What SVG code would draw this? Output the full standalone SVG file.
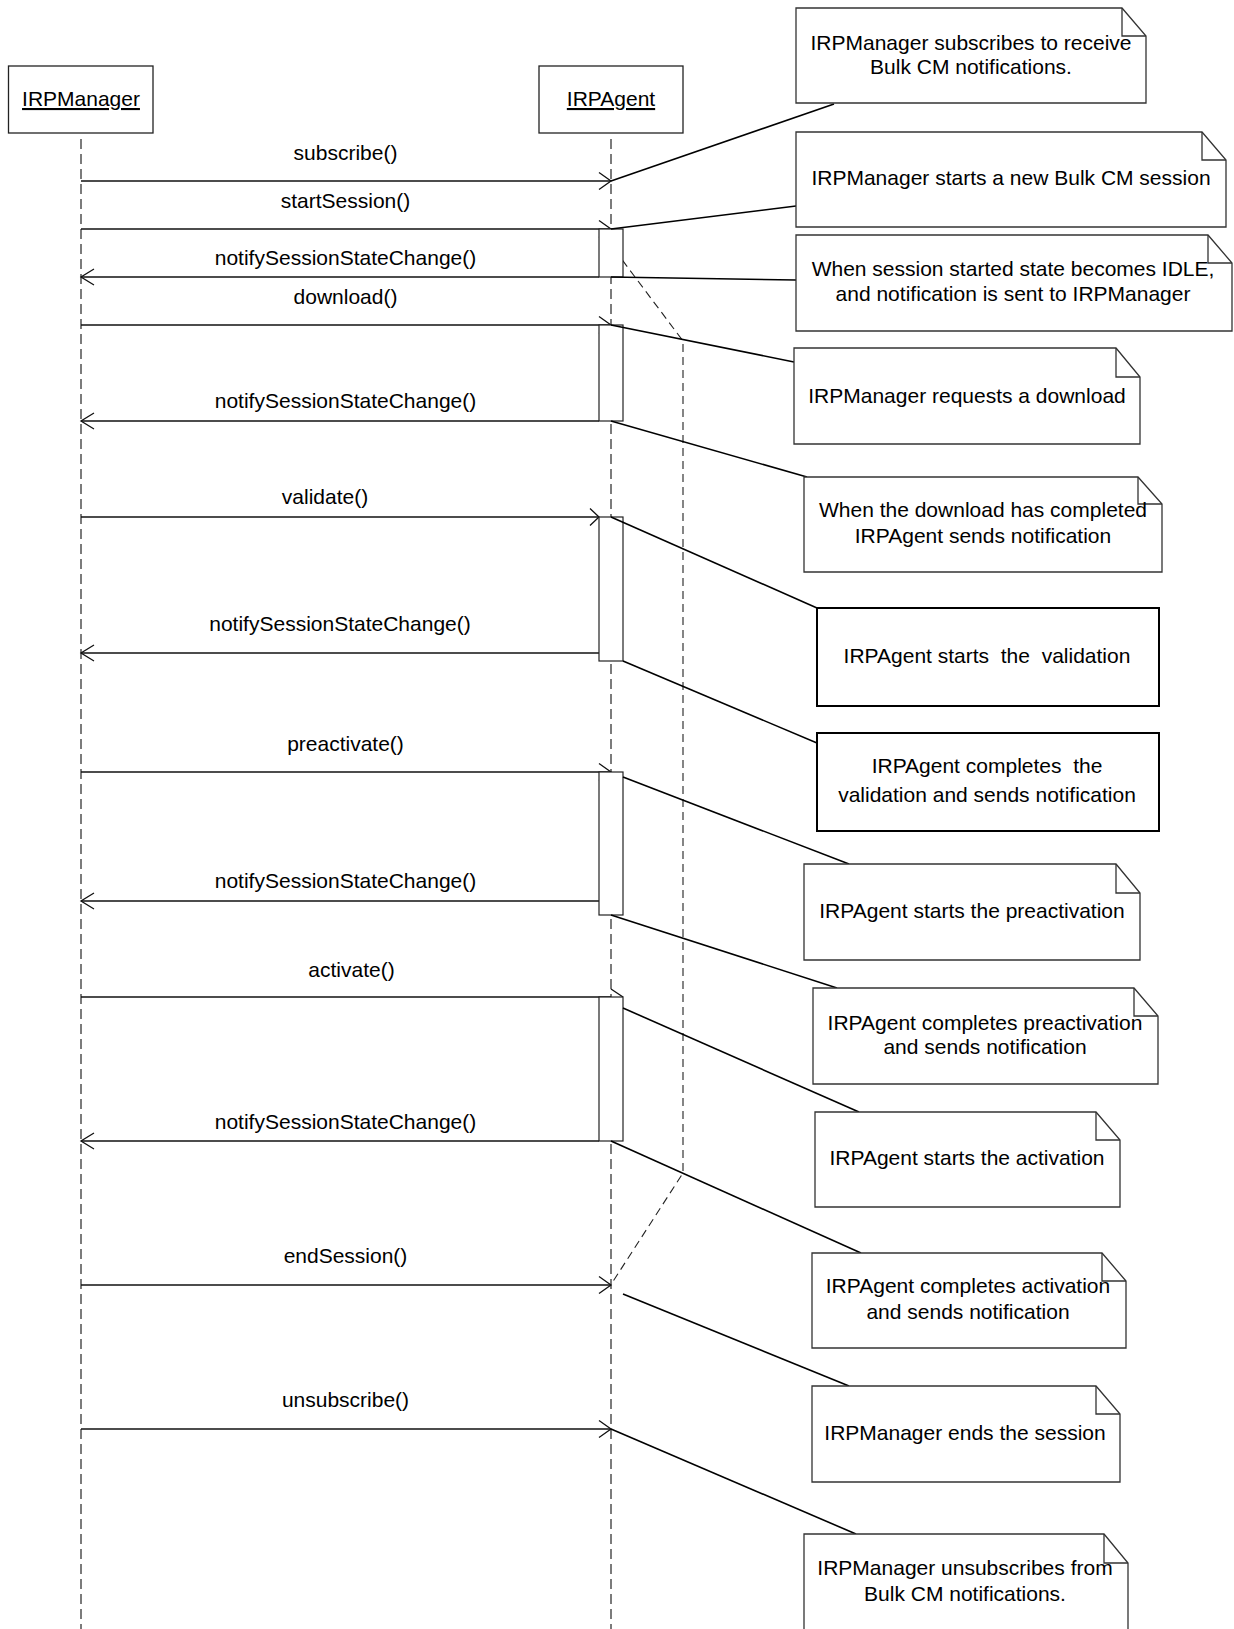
<svg xmlns="http://www.w3.org/2000/svg" width="1234" height="1629" viewBox="0 0 1234 1629">
<style>
text{font-family:"Liberation Sans",Arial,sans-serif;font-size:21px;fill:#000}
.c{text-anchor:middle}
.u{text-decoration:underline}
.obj{fill:#fff;stroke:#222;stroke-width:1.3}
.life{stroke:#444;stroke-width:1.4;stroke-dasharray:10 5;fill:none}
.sess{stroke:#222;stroke-width:1.1;stroke-dasharray:8 5;fill:none}
.msg{stroke:#111;stroke-width:1.3;fill:none}
.act{fill:#fff;stroke:#222;stroke-width:1.2}
.link{stroke:#000;stroke-width:1.6;fill:none}
.note{fill:#fff;stroke:#333;stroke-width:1.3}
.fold{fill:none;stroke:#333;stroke-width:1.3}
.box{fill:#fff;stroke:#000;stroke-width:2}
</style>
<rect width="1234" height="1629" fill="#fff"/>

<g id="lifelines">
<line class="life" x1="81" y1="139" x2="81" y2="1629"/>
<line class="life" x1="611" y1="139" x2="611" y2="1629"/>
<polyline class="sess" points="599,229 683,341 683,1173 612,1283"/>
</g>

<g id="IRPManager">
<rect class="obj" x="8.5" y="66" width="144.5" height="67"/>
<text class="c u" x="81" y="106">IRPManager</text>
</g>
<g id="IRPAgent">
<rect class="obj" x="539" y="66" width="144" height="67"/>
<text class="c u" x="611" y="106">IRPAgent</text>
</g>

<g id="connectors">
<!-- messages -->
<line class="msg" x1="81" y1="181" x2="611" y2="181"/><polyline class="msg" points="599,172.5 611,181 599,189.5"/>
<line class="msg" x1="81" y1="229" x2="611" y2="229"/><polyline class="msg" points="599,220.5 611,229 599,237.5"/>
<line class="msg" x1="81" y1="277" x2="599" y2="277"/><polyline class="msg" points="94,269 81,277 94,285"/>
<line class="msg" x1="81" y1="325" x2="611" y2="325"/><polyline class="msg" points="599,316.5 611,325 599,333.5"/>
<line class="msg" x1="81" y1="421" x2="599" y2="421"/><polyline class="msg" points="94,413 81,421 94,429"/>
<line class="msg" x1="81" y1="517" x2="599" y2="517"/><polyline class="msg" points="590,508.5 599,517 590,525.5"/>
<line class="msg" x1="81" y1="653" x2="599" y2="653"/><polyline class="msg" points="94,645 81,653 94,661"/>
<line class="msg" x1="81" y1="772" x2="611" y2="772"/><polyline class="msg" points="599,763.5 611,772 599,780.5"/>
<line class="msg" x1="81" y1="901" x2="599" y2="901"/><polyline class="msg" points="94,893 81,901 94,909"/>
<line class="msg" x1="81" y1="997" x2="611" y2="997"/><polyline class="msg" points="611,989 623,997"/>
<line class="msg" x1="81" y1="1141" x2="599" y2="1141"/><polyline class="msg" points="94,1133 81,1141 94,1149"/>
<line class="msg" x1="81" y1="1285" x2="611" y2="1285"/><polyline class="msg" points="599,1276.5 611,1285 599,1293.5"/>
<line class="msg" x1="81" y1="1429" x2="611" y2="1429"/><polyline class="msg" points="599,1420.5 611,1429 599,1437.5"/>
</g>

<g id="activations">
<rect class="act" x="599" y="229" width="24" height="48"/>
<rect class="act" x="599" y="325" width="24" height="96"/>
<rect class="act" x="599" y="517" width="24" height="144"/>
<rect class="act" x="599" y="772" width="24" height="143"/>
<rect class="act" x="599" y="997" width="24" height="144"/>
</g>

<g id="note-links">
<line class="link" x1="611" y1="181" x2="834" y2="104"/>
<line class="link" x1="611" y1="229" x2="796" y2="206"/>
<line class="link" x1="611" y1="277" x2="796" y2="280"/>
<line class="link" x1="611" y1="325" x2="794" y2="362"/>
<line class="link" x1="611" y1="421" x2="807" y2="477"/>
<line class="link" x1="611" y1="517" x2="817" y2="608"/>
<line class="link" x1="623" y1="661" x2="817" y2="743"/>
<line class="link" x1="623" y1="777" x2="849" y2="864"/>
<line class="link" x1="611" y1="915" x2="837" y2="988"/>
<line class="link" x1="623" y1="1008" x2="859" y2="1112"/>
<line class="link" x1="611" y1="1141" x2="861" y2="1253"/>
<line class="link" x1="623" y1="1294" x2="849" y2="1386"/>
<line class="link" x1="611" y1="1429" x2="856" y2="1534"/>
</g>

<g id="labels">
<text class="c" x="345.5" y="160">subscribe()</text>
<text class="c" x="345.5" y="208">startSession()</text>
<text class="c" x="345.5" y="265">notifySessionStateChange()</text>
<text class="c" x="345.5" y="304">download()</text>
<text class="c" x="345.5" y="408">notifySessionStateChange()</text>
<text class="c" x="325" y="504">validate()</text>
<text class="c" x="340" y="631">notifySessionStateChange()</text>
<text class="c" x="345.5" y="751">preactivate()</text>
<text class="c" x="345.5" y="888">notifySessionStateChange()</text>
<text class="c" x="351.5" y="977">activate()</text>
<text class="c" x="345.5" y="1129">notifySessionStateChange()</text>
<text class="c" x="345.5" y="1263">endSession()</text>
<text class="c" x="345.5" y="1407">unsubscribe()</text>
</g>

<g id="note1">
<path class="note" d="M796,8 H1122 L1146,36 V103 H796 Z"/><path class="fold" d="M1122,8 V36 H1146"/>
<text class="c" x="971" y="50">IRPManager subscribes to receive</text>
<text class="c" x="971" y="74">Bulk CM notifications.</text>
</g>
<g id="note2">
<path class="note" d="M796,132 H1202 L1226,160 V227 H796 Z"/><path class="fold" d="M1202,132 V160 H1226"/>
<text class="c" x="1011" y="185">IRPManager starts a new Bulk CM session</text>
</g>
<g id="note3">
<path class="note" d="M796,235 H1208 L1232,263 V331 H796 Z"/><path class="fold" d="M1208,235 V263 H1232"/>
<text class="c" x="1013" y="276">When session started state becomes IDLE,</text>
<text class="c" x="1013" y="301">and notification is sent to IRPManager</text>
</g>
<g id="note4">
<path class="note" d="M794,348 H1116 L1140,377 V444 H794 Z"/><path class="fold" d="M1116,348 V377 H1140"/>
<text class="c" x="967" y="403">IRPManager requests a download</text>
</g>
<g id="note5">
<path class="note" d="M804,477 H1138 L1162,504 V572 H804 Z"/><path class="fold" d="M1138,477 V504 H1162"/>
<text class="c" x="983" y="517">When the download has completed</text>
<text class="c" x="983" y="543">IRPAgent sends notification</text>
</g>
<g id="note6">
<rect class="box" x="817" y="608" width="342" height="98"/>
<text class="c" x="987" y="663" xml:space="preserve">IRPAgent starts  the  validation</text>
</g>
<g id="note7">
<rect class="box" x="817" y="733" width="342" height="98"/>
<text class="c" x="987" y="773" xml:space="preserve">IRPAgent completes  the</text>
<text class="c" x="987" y="802">validation and sends notification</text>
</g>
<g id="note8">
<path class="note" d="M804,864 H1116 L1140,893 V960 H804 Z"/><path class="fold" d="M1116,864 V893 H1140"/>
<text class="c" x="972" y="918">IRPAgent starts the preactivation</text>
</g>
<g id="note9">
<path class="note" d="M813,988 H1134 L1158,1016 V1084 H813 Z"/><path class="fold" d="M1134,988 V1016 H1158"/>
<text class="c" x="985" y="1030">IRPAgent completes preactivation</text>
<text class="c" x="985" y="1054">and sends notification</text>
</g>
<g id="note10">
<path class="note" d="M815,1112 H1096 L1120,1140 V1207 H815 Z"/><path class="fold" d="M1096,1112 V1140 H1120"/>
<text class="c" x="967" y="1165">IRPAgent starts the activation</text>
</g>
<g id="note11">
<path class="note" d="M812,1253 H1102 L1126,1281 V1348 H812 Z"/><path class="fold" d="M1102,1253 V1281 H1126"/>
<text class="c" x="968" y="1293">IRPAgent completes activation</text>
<text class="c" x="968" y="1319">and sends notification</text>
</g>
<g id="note12">
<path class="note" d="M812,1386 H1096 L1120,1414 V1482 H812 Z"/><path class="fold" d="M1096,1386 V1414 H1120"/>
<text class="c" x="965" y="1440">IRPManager ends the session</text>
</g>
<g id="note13">
<path class="note" d="M804,1534 H1104 L1128,1563 V1640 H804 Z"/><path class="fold" d="M1104,1534 V1563 H1128"/>
<text class="c" x="965" y="1575">IRPManager unsubscribes from</text>
<text class="c" x="965" y="1601">Bulk CM notifications.</text>
</g>
</svg>
